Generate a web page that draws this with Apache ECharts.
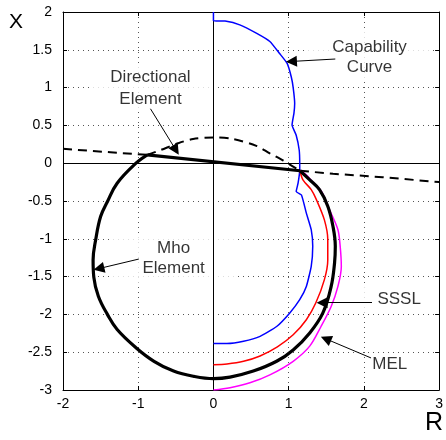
<!DOCTYPE html>
<html><head><meta charset="utf-8">
<script src="https://cdn.jsdelivr.net/npm/echarts@6/dist/echarts.min.js"></script>
<style>html,body{margin:0;padding:0;background:#fff}#c{width:446px;height:440px}</style>
</head><body><div id="c"></div>
<script>
// ---- tick values ----
const xTicks = [-2, -1, 0, 1, 2, 3];
const yTicks = [-3, -2.5, -2, -1.5, -1, -0.5, 0, 0.5, 1, 1.5, 2];

// ---- curves (R, X) ----
const mhoArc = [
  [-0.88, 0.11], [-1.03, 0.0], [-1.28, -0.265], [-1.41, -0.51], [-1.50, -0.705],
  [-1.565, -1.01], [-1.60, -1.28], [-1.59, -1.51], [-1.53, -1.76], [-1.41, -2.0],
  [-1.28, -2.2], [-1.03, -2.44], [-0.79, -2.62], [-0.53, -2.75], [-0.26, -2.82],
  [0.0, -2.85], [0.22, -2.83], [0.53, -2.75], [0.84, -2.62], [1.06, -2.47],
  [1.28, -2.245], [1.455, -1.98], [1.565, -1.63], [1.61, -1.32], [1.62, -1.10],
  [1.59, -0.84], [1.52, -0.57], [1.41, -0.35], [1.28, -0.22], [1.15, -0.10]
];
const mhoChord = [[1.15, -0.10], [-0.88, 0.11]];
const directionalLeft = [[-2.0, 0.19], [-1.37, 0.145], [-0.88, 0.11]];
const directionalArc = [
  [-0.88, 0.11], [-0.7, 0.175], [-0.48, 0.26], [-0.27, 0.32], [0.0, 0.34],
  [0.26, 0.32], [0.57, 0.23], [0.75, 0.13], [0.93, 0.035], [1.06, -0.045], [1.15, -0.10]
];
const directionalRight = [[1.15, -0.10], [1.59, -0.14], [2.25, -0.185], [3.0, -0.25]];
const capability = [
  [0, 2.0], [0, 1.885], [0.155, 1.88], [0.35, 1.83], [0.57, 1.72], [0.75, 1.61],
  [0.88, 1.45], [0.98, 1.32], [1.035, 1.14], [1.06, 1.0], [1.08, 0.79], [1.07, 0.66],
  [1.045, 0.505], [1.10, 0.37], [1.14, 0.175], [1.147, 0.0], [1.147, -0.09],
  [1.125, -0.265], [1.10, -0.375], [1.17, -0.42], [1.235, -0.66], [1.30, -0.88],
  [1.32, -1.10], [1.30, -1.365], [1.235, -1.63], [1.147, -1.805], [1.015, -1.98],
  [0.84, -2.16], [0.62, -2.29], [0.40, -2.355], [0.18, -2.385], [0, -2.385]
];
const sssl = [
  [1.15, -0.10], [1.19, -0.22], [1.30, -0.35], [1.37, -0.485], [1.475, -0.75],
  [1.52, -1.01], [1.52, -1.28], [1.475, -1.54], [1.36, -1.85], [1.235, -2.07],
  [1.06, -2.27], [0.85, -2.43], [0.62, -2.55], [0.40, -2.62], [0.18, -2.655],
  [0, -2.665]
];
const mel = [
  [1.15, -0.10], [1.23, -0.15], [1.33, -0.26], [1.44, -0.38], [1.545, -0.62],
  [1.655, -0.88], [1.685, -1.10], [1.70, -1.365], [1.655, -1.63], [1.565, -1.895],
  [1.43, -2.16], [1.28, -2.42], [1.06, -2.62], [0.75, -2.80], [0.485, -2.905],
  [0.22, -2.97], [0, -3.0]
];
const annotationTexts = ['Directional\nElement', 'Capability\nCurve', 'Mho\nElement', 'SSSL', 'MEL'];
const axisTitles = ['R', 'X'];

// ---- annotation placement (data coordinates) and box styles ----
const annotationPlacement = [
  { at: [-0.837, 0.995], label: { lineHeight: 22, padding: [0, 20] } },
  { at: [2.075, 1.404], label: { lineHeight: 20, padding: [5, 26] } },
  { at: [-0.529, -1.264], label: { lineHeight: 20, padding: [4, 30] } },
  { at: [2.469, -1.806], label: { lineHeight: 17, padding: [9, 16, 0, 16] } },
  { at: [2.345, -2.665], label: { lineHeight: 17, padding: [0, 2] } }
];
const arrowPlacement = [
  [[-0.837, 0.72], [-0.499, 0.174]],
  [[1.62, 1.378], [1.037, 1.346]],
  [[-0.992, -1.268], [-1.523, -1.394]],
  [[2.108, -1.842], [1.444, -1.845]],
  [[2.095, -2.576], [1.495, -2.324]]
];

const font = "'Liberation Sans', Arial, Helvetica, sans-serif";
const black = '#000';

function xAxisDef(pos, labels) {
  return {
    type: 'value', position: pos, min: xTicks[0], max: xTicks[xTicks.length - 1],
    interval: xTicks[1] - xTicks[0],
    axisLine: { show: true, onZero: false, lineStyle: { color: black, width: 1 } },
    axisTick: { show: true, inside: true, length: 4, lineStyle: { color: black } },
    axisLabel: { show: labels, color: black, fontSize: 14, fontFamily: font, margin: 7 },
    splitLine: { show: labels, lineStyle: { color: '#555', width: 1, type: [1, 4] } }
  };
}
function yAxisDef(pos, labels) {
  return {
    type: 'value', position: pos, min: yTicks[0], max: yTicks[yTicks.length - 1],
    interval: yTicks[1] - yTicks[0],
    axisLine: { show: true, onZero: false, lineStyle: { color: black, width: 1 } },
    axisTick: { show: true, inside: true, length: 4, lineStyle: { color: black } },
    axisLabel: { show: labels, color: black, fontSize: 14, fontFamily: font, margin: 11 },
    splitLine: { show: labels, lineStyle: { color: '#555', width: 1, type: [1, 4] } }
  };
}
function curve(name, data, color, width, type, smooth) {
  return {
    name, type: 'line', data, showSymbol: false, symbol: 'none', z: 5,
    smooth: smooth || 0,
    lineStyle: { color, width, type: type || 'solid' }, silent: true, clip: true
  };
}

const chart = echarts.init(document.getElementById('c'), null, { renderer: 'canvas' });
chart.setOption({
  animation: false,
  backgroundColor: '#fff',
  textStyle: { fontFamily: font },
  grid: { left: 63, top: 12, width: 378, height: 378, containLabel: false },
  xAxis: [xAxisDef('bottom', true), xAxisDef('top', false)],
  yAxis: [yAxisDef('left', true), yAxisDef('right', false)],
  series: [
    {
      type: 'scatter', z: 3, silent: true, symbolSize: 1,
      itemStyle: { color: 'rgba(0,0,0,0)' },
      label: {
        show: true, position: 'inside', color: black, fontSize: 17, fontFamily: font,
        backgroundColor: '#fff', formatter: p => p.name
      },
      data: annotationTexts.map((t, i) => ({
        name: t, value: annotationPlacement[i].at, label: annotationPlacement[i].label
      }))
    },
    {
      type: 'line', data: [], z: 4, silent: true,
      markLine: {
        silent: true, symbol: 'none', animation: false,
        label: { show: false },
        lineStyle: { color: black, width: 1, type: 'solid' },
        data: [{ xAxis: 0 }, { yAxis: 0 }]
      }
    },
    {
      type: 'lines', coordinateSystem: 'cartesian2d', z: 6, silent: true,
      symbol: ['none', 'triangle'], symbolSize: 11,
      lineStyle: { color: black, width: 1, opacity: 1, curveness: 0 },
      itemStyle: { color: black },
      data: arrowPlacement.map(c => ({ coords: c }))
    },
    curve('Directional', directionalLeft, black, 2, [9, 6]),
    curve('Directional', directionalArc, black, 2, [9, 6], 0.3),
    curve('Directional', directionalRight, black, 2, [9, 6]),
    curve('Capability Curve', capability, '#0000ff', 1.5, 'solid', 0.15),
    curve('MEL', mel, '#ff00ff', 1.5, 'solid', 0.3),
    curve('SSSL', sssl, '#ff0000', 1.5, 'solid', 0.3),
    curve('Mho Element', mhoArc, black, 3.2, 'solid', 0.4),
    curve('Mho Element', mhoChord, black, 3.2)
  ],
  graphic: [
    { type: 'text', left: 425, top: 411, style: { text: axisTitles[0], fontSize: 25, fontFamily: font, fill: black } },
    { type: 'text', left: 9, top: 12, style: { text: axisTitles[1], fontSize: 21, fontFamily: font, fill: black } }
  ]
});
</script>
</body></html>
